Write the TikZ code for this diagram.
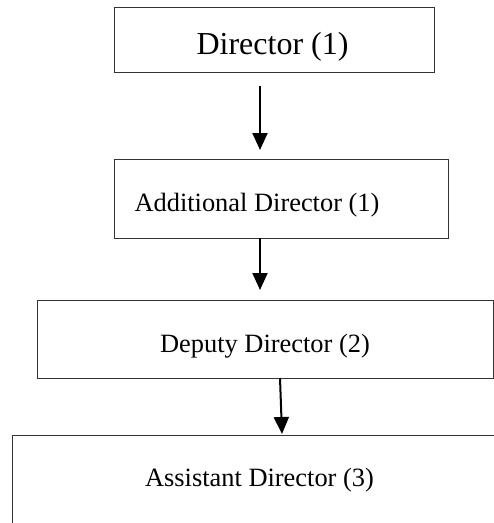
\documentclass[tikz,border=0pt]{standalone}
\usepackage{fontspec}
\setmainfont{Liberation Serif}
\usetikzlibrary{arrows.meta}
\begin{document}
\begin{tikzpicture}[x=1pt,y=-1pt,
  box/.style={draw=black!80, line width=1.3pt, inner sep=0pt, anchor=north west},
  lbl/.style={inner sep=0pt, font=\fontsize{26.4}{30}\selectfont},
  arr/.style={draw=black, line width=2pt, -{Triangle[width=15pt,length=17pt]}}]
\useasboundingbox (0,0) rectangle (494,523);
\clip (0,0) rectangle (494,523);
\node[box, minimum width=320pt, minimum height=65pt] (b1) at (114,7) {};
\node[box, minimum width=334pt, minimum height=79pt] (b2) at (114,159) {};
\node[box, minimum width=456pt, minimum height=78pt] (b3) at (37,300) {};
\node[box, minimum width=560pt, minimum height=200pt] (b4) at (12,435) {};
\node[lbl, font=\fontsize{32}{36}\selectfont] (t1) at (272.5,47) {Director (1)};
\node[lbl] (t2) at (257,205) {Additional Director (1)};
\node[lbl] (t3) at (265,346) {Deputy Director (2)};
\node[lbl] (t4) at (259.5,480) {Assistant Director (3)};
\coordinate (a1s) at (260,86);
\coordinate (a1e) at (260,150);
\coordinate (a2s) at (260,238);
\coordinate (a2e) at (260,290);
\coordinate (a3s) at (280,378);
\coordinate (a3e) at (282,434);
\draw[arr] (a1s) -- (a1e);
\draw[arr] (a2s) -- (a2e);
\draw[arr] (a3s) -- (a3e);
\end{tikzpicture}
\end{document}
